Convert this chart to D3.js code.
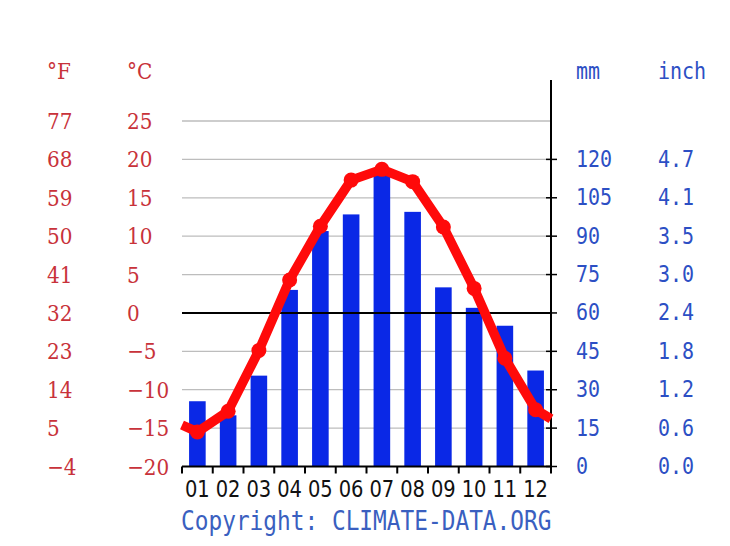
<!DOCTYPE html>
<html>
<head>
<meta charset="utf-8">
<script src="https://cdn.jsdelivr.net/npm/d3@7"></script>
<style>
  html, body { margin: 0; padding: 0; background: #ffffff; }
  svg { display: block; }
</style>
</head>
<body>
<svg id="chart" width="730" height="546"></svg>
<script>
// ---- data ----
const months = ["01","02","03","04","05","06","07","08","09","10","11","12"];
const precipMM = [25.5, 20, 35.5, 69, 92, 98.5, 115, 99.5, 70, 62, 55, 37.5];
const tempC = [-15.5, -12.8, -4.9, 4.3, 11.3, 17.3, 18.7, 17.1, 11.2, 3.2, -5.9, -12.6];
const tempEdges = [-14.6, -13.8]; // line value at the left and right edges of the plot
const celsiusTicks = [-20, -15, -10, -5, 0, 5, 10, 15, 20, 25];
const fahrenheitLabels = ["-4", "5", "14", "23", "32", "41", "50", "59", "68", "77"];
const mmTicks = [0, 15, 30, 45, 60, 75, 90, 105, 120];
const inchLabels = ["0.0", "0.6", "1.2", "1.8", "2.4", "3.0", "3.5", "4.1", "4.7"];

// ---- layout ----
const left = 182, right = 551, bottom = 466.5, top25 = 121;
const red = "#c8323a", blue = "#2c4fc4";
const SY = 1.14; // vertical stretch of the lettering in the reference
const svg = d3.select("#chart");

const x = d3.scaleBand().domain(months).range([left, right]).paddingInner(0.46).paddingOuter(0.23);
const xEdge = d3.scaleLinear().domain([0, 12]).range([left, right]);
const yT = d3.scaleLinear().domain([-20, 25]).range([bottom, top25]);
const yP = d3.scaleLinear().domain([0, 135]).range([bottom, top25]);

function place(sel, fx, fy) {
  return sel.attr("transform", (d, i) => `translate(${fx(d, i)},${fy(d, i)}) scale(1,${SY})`);
}

// gridlines
svg.append("g").selectAll("line")
  .data(celsiusTicks.filter(d => d !== 0 && d !== -20))
  .join("line")
  .attr("x1", left).attr("x2", right)
  .attr("y1", d => yT(d)).attr("y2", d => yT(d))
  .attr("stroke", "#bdbdbd").attr("stroke-width", 1.3);

// bars
svg.append("g").selectAll("rect")
  .data(precipMM)
  .join("rect")
  .attr("x", (d, i) => x(months[i]))
  .attr("width", x.bandwidth())
  .attr("y", d => yP(d))
  .attr("height", d => bottom - yP(d))
  .attr("fill", "#0a28e6");

// zero line
svg.append("line")
  .attr("x1", left).attr("x2", right)
  .attr("y1", yT(0)).attr("y2", yT(0))
  .attr("stroke", "#000").attr("stroke-width", 2);

// bottom axis
const xAxisG = svg.append("g");
xAxisG.append("line").attr("x1", left).attr("x2", right + 1)
  .attr("y1", bottom).attr("y2", bottom).attr("stroke", "#000").attr("stroke-width", 2);
xAxisG.selectAll("line.tk").data(d3.range(13)).join("line").attr("class", "tk")
  .attr("x1", d => xEdge(d)).attr("x2", d => xEdge(d))
  .attr("y1", bottom).attr("y2", bottom + 7)
  .attr("stroke", "#000").attr("stroke-width", 2);
place(xAxisG.selectAll("text").data(months).join("text"),
      (d, i) => xEdge(i + 0.5), () => 497)
  .attr("text-anchor", "middle")
  .attr("font-family", "DejaVu Sans, sans-serif")
  .attr("font-size", 19.5)
  .attr("fill", "#111")
  .text(d => d);

// right axis
const rAxis = svg.append("g");
rAxis.append("line").attr("x1", right).attr("x2", right)
  .attr("y1", 80).attr("y2", bottom + 4).attr("stroke", "#000").attr("stroke-width", 2);
rAxis.selectAll("line.tk").data(mmTicks).join("line").attr("class", "tk")
  .attr("x1", right - 5).attr("x2", right + 6)
  .attr("y1", d => yP(d)).attr("y2", d => yP(d))
  .attr("stroke", "#000").attr("stroke-width", 1.5);
place(rAxis.selectAll("text.mm").data(mmTicks).join("text").attr("class", "mm"),
      () => 576, d => yP(d) + 7.5)
  .attr("font-family", "DejaVu Sans Mono, monospace").attr("font-size", 20)
  .attr("fill", blue).text(d => d);
place(rAxis.selectAll("text.in").data(mmTicks).join("text").attr("class", "in"),
      () => 658, d => yP(d) + 7.5)
  .attr("font-family", "DejaVu Sans Mono, monospace").attr("font-size", 20)
  .attr("fill", blue).text((d, i) => inchLabels[i]);
place(svg.append("g").selectAll("text").data(["mm", "inch"]).join("text"),
      (d, i) => [576, 658][i], () => 79)
  .attr("font-family", "DejaVu Sans Mono, monospace").attr("font-size", 20)
  .attr("fill", blue).text(d => d);

// left labels
const lAxis = svg.append("g");
place(lAxis.selectAll("text.f").data(celsiusTicks).join("text").attr("class", "f"),
      () => 47, d => yT(d) + 8)
  .attr("font-family", "DejaVu Serif, serif").attr("font-size", 20)
  .attr("fill", red).text((d, i) => fahrenheitLabels[i].replace("-", "\u2212"));
place(lAxis.selectAll("text.c").data(celsiusTicks).join("text").attr("class", "c"),
      () => 127, d => yT(d) + 8)
  .attr("font-family", "DejaVu Serif, serif").attr("font-size", 20)
  .attr("fill", red).text(d => String(d).replace("-", "\u2212"));
place(svg.append("g").selectAll("text").data(["\u00B0F", "\u00B0C"]).join("text"),
      (d, i) => [47, 127][i], () => 79)
  .attr("font-family", "DejaVu Serif, serif").attr("font-size", 20)
  .attr("fill", red).text(d => d);

// temperature line
const pts = [[xEdge(0), yT(tempEdges[0])]]
  .concat(tempC.map((t, i) => [x(months[i]) + x.bandwidth() / 2, yT(t)]))
  .concat([[xEdge(12), yT(tempEdges[1])]]);
svg.append("path")
  .attr("d", d3.line()(pts))
  .attr("fill", "none").attr("stroke", "#ff0a0a")
  .attr("stroke-width", 9.5).attr("stroke-linejoin", "round");
svg.append("g").selectAll("circle").data(tempC).join("circle")
  .attr("cx", (d, i) => x(months[i]) + x.bandwidth() / 2)
  .attr("cy", d => yT(d))
  .attr("r", 7.5).attr("fill", "#ff0a0a");

// copyright
place(svg.append("g").selectAll("text").data(["Copyright: CLIMATE-DATA.ORG"]).join("text"),
      () => 181, () => 530)
  .attr("font-family", "DejaVu Sans Mono, monospace").attr("font-size", 22.8)
  .attr("fill", "#3a5fc0").text(d => d);
</script>
</body>
</html>
